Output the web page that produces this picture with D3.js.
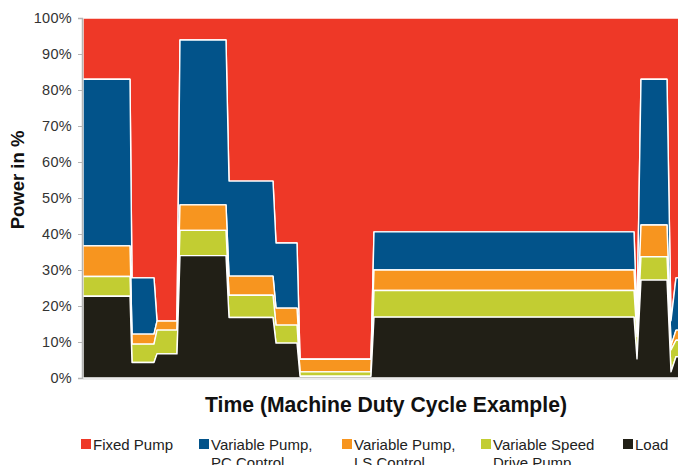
<!DOCTYPE html>
<html>
<head>
<meta charset="utf-8">
<script src="https://cdn.jsdelivr.net/npm/d3@7"></script>
<style>
  body { margin: 0; background: #fff; }
  svg { display: block; font-family: "Liberation Sans", Arial, sans-serif; }
</style>
</head>
<body>
<div id="chart"></div>
<script>
// time steps of the duty cycle (arbitrary units) and the share of each source in %
const time   = [0,    47,   49,   71,   74,   94,   97,   143,  146,  190,  193,  214,  217,  288,  291,  551,  554,  558,  584,  588,  593,  600];
const load   = [22.7, 22.7, 4.3,  4.3,  6.7,  6.7,  34,   34,   16.8, 16.8, 9.7,  9.7,  0.5,  0.5,  16.9, 16.9, 5.3,  27.2, 27.2, 1.7,  5.9,  5.9];
const vsd    = [5.5,  5.5,  5.1,  5.1,  6.6,  6.6,  7,    7,    6.2,  6.2,  5,    5,    1.2,  1.2,  7.4,  7.4,  6.2,  6.5,  6.5,  6.1,  4.6,  4.6];
const lsCtrl = [8.5,  8.5,  2.8,  2.8,  2.5,  2.5,  7.1,  7.1,  5.3,  5.3,  4.7,  4.7,  3.5,  3.5,  5.7,  5.7,  2.4,  8.8,  8.8,  1.2,  2.8,  2.8];
const pcCtrl = [46.3, 46.3, 15.6, 15.6, 0,    0,    45.8, 45.8, 26.4, 26.4, 18.1, 18.1, 0,    0,    10.6, 10.6, 2,    40.5, 40.5, 6.9,  14.5, 14.5];
const fixed  = [17,   17,   72.2, 72.2, 84.2, 84.2, 6.1,  6.1,  45.3, 45.3, 62.5, 62.5, 94.8, 94.8, 59.4, 59.4, 84.1, 17,   17,   84.1, 72.2, 72.2];

const yTicks = [0, 10, 20, 30, 40, 50, 60, 70, 80, 90, 100];

const seriesKeys = ['load', 'vsd', 'ls', 'pc', 'fixed'];
const seriesNames = {
  fixed: ['Fixed Pump'],
  pc: ['Variable Pump,', 'PC Control'],
  ls: ['Variable Pump,', 'LS Control'],
  vsd: ['Variable Speed', 'Drive Pump'],
  load: ['Load']
};
const colors = {
  fixed: '#ee3827',
  pc: '#02538a',
  ls: '#f7951f',
  vsd: '#c2cd32',
  load: '#211f16'
};
const legendOrder = ['fixed', 'pc', 'ls', 'vsd', 'load'];

const rows = time.map((t, i) => ({
  t: t, load: load[i], vsd: vsd[i], ls: lsCtrl[i], pc: pcCtrl[i], fixed: fixed[i]
}));

const W = 678, H = 465;
const margin = {top: 18, left: 83, bottom: 87};
const svg = d3.select('#chart').append('svg')
  .attr('width', W)
  .attr('height', H);

const x = d3.scaleLinear().domain([0, 600]).range([margin.left, margin.left + 600]);
const y = d3.scaleLinear().domain([0, 100]).range([H - margin.bottom, margin.top]);

const stacked = d3.stack().keys(seriesKeys)(rows);

const area = d3.area()
  .x(d => x(d.data.t))
  .y0(d => y(d[0]))
  .y1(d => y(d[1]));

svg.append('g').selectAll('path')
  .data(stacked.slice().reverse())
  .join('path')
  .attr('d', area)
  .attr('fill', d => colors[d.key])
  .attr('stroke', '#fff')
  .attr('stroke-width', 1.4)
  .attr('stroke-linejoin', 'round');

// baseline
svg.append('line')
  .attr('x1', margin.left).attr('x2', W)
  .attr('y1', y(0) + 1).attr('y2', y(0) + 1)
  .attr('stroke', '#e4e4e4').attr('stroke-width', 1.5);

// y axis
const yAxis = d3.axisLeft(y)
  .tickValues(yTicks)
  .tickSize(4)
  .tickPadding(6)
  .tickFormat(d => d + '%');
const yg = svg.append('g')
  .attr('transform', `translate(${margin.left - 1},0)`)
  .call(yAxis);
yg.select('.domain').attr('stroke', '#b5b5b5').attr('stroke-width', 1.5);
yg.selectAll('.tick line').attr('stroke', '#b5b5b5');
yg.selectAll('.tick text')
  .attr('fill', '#333')
  .style('font-size', '14.5px')
  .style('letter-spacing', '0.3px');

// axis titles
svg.append('text')
  .attr('transform', `translate(24,180) rotate(-90)`)
  .attr('text-anchor', 'middle')
  .style('font-size', '18.5px')
  .style('font-weight', 'bold')
  .attr('fill', '#111')
  .text('Power in %');

svg.append('text')
  .attr('x', 205)
  .attr('y', 412)
  .attr('textLength', 362)
  .attr('lengthAdjust', 'spacingAndGlyphs')
  .style('font-family', '"Liberation Sans Narrow", "Liberation Sans", Arial, sans-serif')
  .style('font-size', '22px')
  .style('font-weight', 'bold')
  .attr('fill', '#111')
  .text('Time (Machine Duty Cycle Example)');

// legend (second lines run past the bottom edge, as in the original)
const legendX = [81, 199, 342, 481, 623];
const legend = svg.append('g').selectAll('g')
  .data(legendOrder)
  .join('g')
  .attr('transform', (d, i) => `translate(${legendX[i]},438)`);
legend.append('rect')
  .attr('width', 10).attr('height', 10)
  .attr('y', 1)
  .attr('fill', d => colors[d]);
legend.append('text')
  .attr('x', 12)
  .attr('y', 12)
  .attr('fill', '#222')
  .style('font-size', '15px')
  .selectAll('tspan')
  .data(d => seriesNames[d])
  .join('tspan')
  .attr('x', 12)
  .attr('dy', (d, i) => i === 0 ? 0 : 18)
  .text(d => d);
</script>
</body>
</html>
